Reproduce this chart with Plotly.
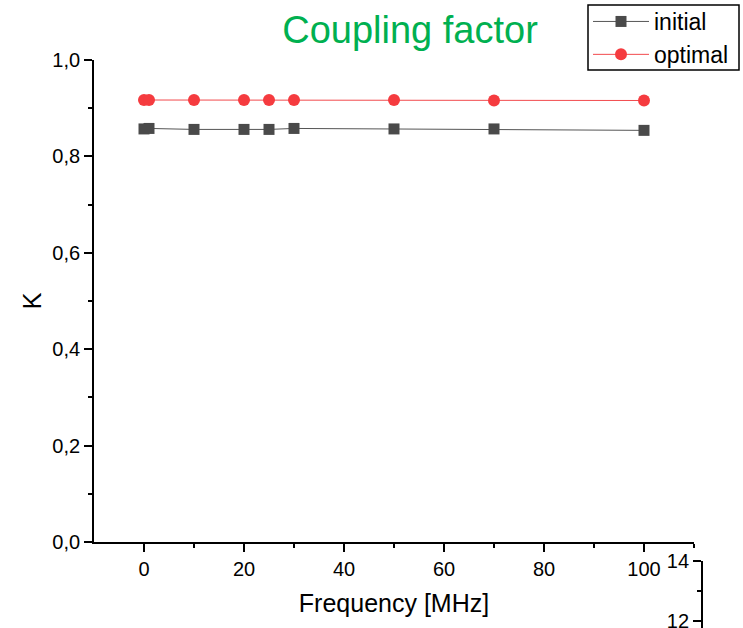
import plotly.graph_objects as go

freq = [0, 1, 10, 20, 25, 30, 50, 70, 100]
initial = [0.857, 0.858, 0.856, 0.856, 0.856, 0.858, 0.857, 0.857, 0.854]
optimal = [0.917, 0.917, 0.917, 0.917, 0.917, 0.917, 0.917, 0.916, 0.916]

FONT = "Liberation Sans, Arial, sans-serif"

fig = go.Figure()
fig.add_trace(go.Scatter(
    x=freq, y=initial, name="initial", mode="lines+markers",
    line=dict(color="#555555", width=1),
    marker=dict(symbol="square", size=11, color="#4a4a4a"),
))
fig.add_trace(go.Scatter(
    x=freq, y=optimal, name="optimal", mode="lines+markers",
    line=dict(color="#f24a4d", width=1),
    marker=dict(symbol="circle", size=12, color="#f53b3f"),
))
# partial neighbouring axis visible at bottom right
fig.add_trace(go.Scatter(x=[None], y=[None], xaxis="x2", yaxis="y2",
                         showlegend=False, hoverinfo="skip"))

W, H = 743, 628
L, R, T, B = 94, 0, 60, 0
pw, ph = W - L - R, H - T - B


def px_x(p):
    return (p - L) / pw


def px_y(p):
    return (H - B - p) / ph


fig.update_layout(
    width=W, height=H,
    margin=dict(l=L, r=R, t=T, b=B, autoexpand=False),
    paper_bgcolor="white", plot_bgcolor="white",
    separators=",.",
    font=dict(family=FONT, size=20, color="black"),
    title=dict(text="Coupling factor", font=dict(size=38, color="#00B050"),
               x=410 / W, xref="container", xanchor="center",
               y=1 - 30 / H, yref="container", yanchor="middle"),
    showlegend=True,
    legend=dict(x=588 / W, y=1.0, xref="container", yref="container",
                xanchor="left", yanchor="top",
                borderwidth=0, bgcolor="rgba(0,0,0,0)",
                font=dict(size=23), itemwidth=56, tracegroupgap=0),
    shapes=[dict(type="rect", xref="paper", yref="paper",
                 x0=px_x(588), x1=px_x(739), y0=px_y(70), y1=px_y(5),
                 line=dict(color="black", width=1.5), layer="below")],
    xaxis=dict(
        domain=[0, 600 / pw], range=[-10, 110], anchor="y",
        tickmode="array", tickvals=[0, 20, 40, 60, 80, 100],
        ticks="outside", ticklen=8, tickwidth=1.5, tickcolor="black",
        minor=dict(tickvals=[10, 30, 50, 70, 90, 110], ticks="outside",
                   ticklen=4, tickwidth=1.5, tickcolor="black"),
        showline=True, linecolor="black", linewidth=1.8,
        showgrid=False, zeroline=False,
        title=dict(text="Frequency [MHz]", font=dict(size=25), standoff=16),
    ),
    yaxis=dict(
        domain=[(H - 542) / ph, 1], range=[0, 1], anchor="x",
        tickmode="array", tickvals=[0, 0.2, 0.4, 0.6, 0.8, 1.0],
        tickformat=".1f",
        ticks="outside", ticklen=8, tickwidth=1.5, tickcolor="black",
        minor=dict(tickvals=[0.1, 0.3, 0.5, 0.7, 0.9], ticks="outside",
                   ticklen=4, tickwidth=1.5, tickcolor="black"),
        showline=True, linecolor="black", linewidth=1.8,
        showgrid=False, zeroline=False,
        title=dict(text="K", font=dict(size=25), standoff=4),
    ),
    xaxis2=dict(domain=[(703 - L) / pw, 1], anchor="y2", visible=False,
                range=[0, 1]),
    yaxis2=dict(
        domain=[0, (H - 561) / ph], range=[14 - 67 / 30, 14], anchor="x2",
        tickmode="array", tickvals=[12, 14], ticklabeloverflow="allow",
        ticks="outside", ticklen=8, tickwidth=1.5, tickcolor="black",
        minor=dict(tickvals=[13], ticks="outside", ticklen=4, tickwidth=1.5,
                   tickcolor="black"),
        showline=True, linecolor="black", linewidth=1.8,
        showgrid=False, zeroline=False,
    ),
)

fig.write_html("out.html")
